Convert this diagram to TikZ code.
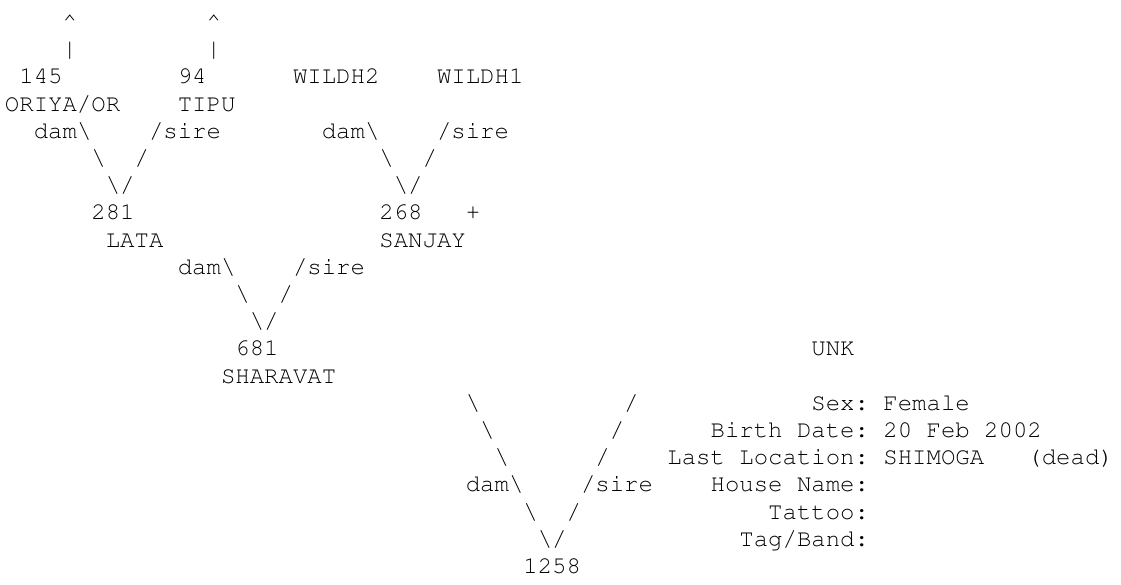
\documentclass[tikz,border=0pt]{standalone}
\usepackage[T1]{fontenc}
\usepackage{courier}
\tikzset{tk/.style={anchor=base west, inner sep=0pt, outer sep=0pt, text=black,
  font=\ttfamily\fontsize{24}{27}\selectfont}}
\newcommand\tok[4]{\node[tk] (#1) at ({5+14.4*#2},{29.5+27.2*#3}) {#4};}
\newcommand\bs{\textbackslash}
\begin{document}
\begin{tikzpicture}[x=1pt,y=-1pt]
\fill[white] (0,0) rectangle (1121,585);
\useasboundingbox (0,0) rectangle (1121,585);
% generation 3
\tok{carA}{4}{0}{\textasciicircum}
\tok{carB}{14}{0}{\textasciicircum}
\tok{barA}{4}{1}{|}
\tok{barB}{14}{1}{|}
\tok{n145}{1}{2}{145}
\tok{n94}{12}{2}{94}
\tok{wA}{20}{2}{WILDH2}
\tok{wB}{30}{2}{WILDH1}
\tok{oriya}{0}{3}{ORIYA/OR}
\tok{tipu}{12}{3}{TIPU}
\tok{damA}{2}{4}{dam\bs}
\tok{sireA}{10}{4}{/sire}
\tok{damB}{22}{4}{dam\bs}
\tok{sireB}{30}{4}{/sire}
\tok{bA1}{6}{5}{\bs}
\tok{sA1}{9}{5}{/}
\tok{bB1}{26}{5}{\bs}
\tok{sB1}{29}{5}{/}
\tok{vA}{7}{6}{\bs/}
\tok{vB}{27}{6}{\bs/}
% generation 2
\tok{n281}{6}{7}{281}
\tok{n268}{26}{7}{268}
\tok{plus}{32}{7}{+}
\tok{lata}{7}{8}{LATA}
\tok{sanjay}{26}{8}{SANJAY}
\tok{damC}{12}{9}{dam\bs}
\tok{sireC}{20}{9}{/sire}
\tok{bC1}{16}{10}{\bs}
\tok{sC1}{19}{10}{/}
\tok{vC}{17}{11}{\bs/}
% generation 1
\tok{n681}{16}{12}{681}
\tok{unk}{56}{12}{UNK}
\tok{shar}{15}{13}{SHARAVAT}
\tok{bD1}{32}{14}{\bs}
\tok{sD1}{43}{14}{/}
\tok{bD2}{33}{15}{\bs}
\tok{sD2}{42}{15}{/}
\tok{bD3}{34}{16}{\bs}
\tok{sD3}{41}{16}{/}
\tok{damD}{32}{17}{dam\bs}
\tok{sireD}{40}{17}{/sire}
\tok{bD4}{36}{18}{\bs}
\tok{sD4}{39}{18}{/}
\tok{vD}{37}{19}{\bs/}
\tok{n1258}{36}{20}{1258}
% details
\tok{lsex}{56}{14}{Sex:}
\tok{vsex}{61}{14}{Female}
\tok{lbirth}{49}{15}{Birth Date:}
\tok{vbirth}{61}{15}{20 Feb 2002}
\tok{lloc}{46}{16}{Last Location:}
\tok{vloc}{61}{16}{SHIMOGA}
\tok{dead}{71}{16}{(dead)}
\tok{lhouse}{49}{17}{House Name:}
\tok{ltat}{53}{18}{Tattoo:}
\tok{ltag}{51}{19}{Tag/Band:}
\end{tikzpicture}
\end{document}
